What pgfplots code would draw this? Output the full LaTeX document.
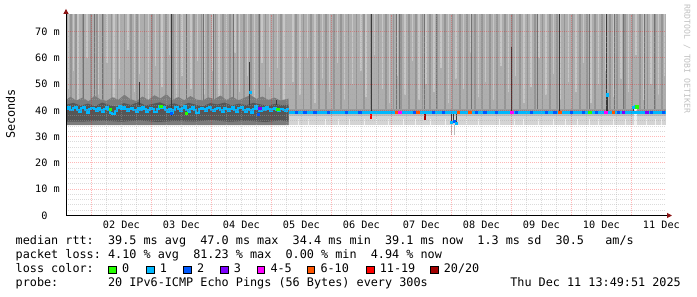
\documentclass[border=0pt]{standalone}
\usepackage{fontspec}
\setmainfont{DejaVu Sans Mono}
\usepackage{pgfplots}
\pgfplotsset{compat=1.18}
\usetikzlibrary{arrows.meta}
\definecolor{smokebase}{HTML}{AEAEAE}
\definecolor{smokelight}{HTML}{C6C6C6}
\definecolor{smokedark}{HTML}{959595}
\definecolor{smokevdark}{HTML}{727272}
\definecolor{spikedark}{HTML}{3A3A3A}
\definecolor{bandone}{HTML}{7C7C7C}
\definecolor{bandtwo}{HTML}{565656}
\definecolor{lowlight}{HTML}{D4D4D4}
\definecolor{lowmid}{HTML}{BDBDBD}
\definecolor{lowwhite}{HTML}{F0F0F0}
\definecolor{upband}{HTML}{9A9A9A}
\definecolor{lossa}{HTML}{26FF00}
\definecolor{lossb}{HTML}{00B8FF}
\definecolor{lossc}{HTML}{0059FF}
\definecolor{lossd}{HTML}{7E00FF}
\definecolor{losse}{HTML}{FF00FF}
\definecolor{lossf}{HTML}{FF5500}
\definecolor{lossg}{HTML}{FF0000}
\definecolor{lossh}{HTML}{A10000}
\definecolor{arrowred}{HTML}{8B1414}
\definecolor{wmark}{HTML}{C0C0C0}
\frenchspacing
\newcommand{\legfont}{\fontsize{11.8}{14}\selectfont}
\newcommand{\tickfont}{\fontsize{10.2}{12}\selectfont}
\begin{document}
\begin{tikzpicture}[x=1pt,y=1pt]
\useasboundingbox (0,0) rectangle (697,297);
\begin{axis}[
  at={(66pt,81.5pt)}, anchor=south west,
  scale only axis, width=600pt, height=200.6pt,
  xmin=1.5764, xmax=11.5764, ymin=0, ymax=76.4,
  axis x line=bottom, axis y line=left,
  axis line style={line width=1pt, black, -{Triangle[length=5pt,width=5pt,color=arrowred,fill=arrowred]}, shorten >=-6pt},
  axis on top,
  unbounded coords=jump,
  xtick={2,3,4,5,6,7,8,9,10,11}, minor x tick num=3,
  xticklabels={02 Dec,03 Dec,04 Dec,05 Dec,06 Dec,07 Dec,08 Dec,09 Dec,10 Dec,11 Dec},
  xticklabel style={font=\tickfont, anchor=center, inner sep=0pt, xshift=30pt, yshift=-9.3pt},
  ytick={0,10,20,30,40,50,60,70}, minor y tick num=4,
  yticklabels={0\phantom{0m},10 m,20 m,30 m,40 m,50 m,60 m,70 m},
  yticklabel style={font=\tickfont, anchor=east, inner sep=0pt, xshift=-6pt},
  major tick length=0pt, minor tick length=0pt,
  tick style={draw=none},
  grid=both,
  major grid style={draw=red, opacity=0.28, dash pattern=on 1pt off 1pt, line width=1pt},
  minor grid style={draw=gray!70, opacity=0.4, dash pattern=on 1pt off 1pt, line width=1pt},
]
% upper smoke base
\addplot[fill=smokebase, draw=none, forget plot] coordinates {(1.5764,34.5) (11.5764,34.5) (11.5764,80) (1.5764,80)} -- cycle;
% light streaks
\addplot[draw=smokelight, line width=1.6pt, mark=none, forget plot] coordinates {
(1.62,48) (1.62,80) (1.62,nan) (1.70,55) (1.70,80) (1.70,nan) (1.78,44) (1.78,80) (1.78,nan)
(1.93,60) (1.93,80) (1.93,nan) (2.05,50) (2.05,80) (2.05,nan) (2.12,46) (2.12,80) (2.12,nan)
(2.26,58) (2.26,80) (2.26,nan) (2.38,45) (2.38,80) (2.38,nan) (2.47,52) (2.47,80) (2.47,nan)
(2.61,63) (2.61,80) (2.61,nan) (2.72,47) (2.72,80) (2.72,nan) (2.80,54) (2.80,80) (2.80,nan)
(2.95,44) (2.95,80) (2.95,nan) (3.07,57) (3.07,80) (3.07,nan) (3.18,49) (3.18,80) (3.18,nan)
(3.30,61) (3.30,80) (3.30,nan) (3.42,45) (3.42,80) (3.42,nan) (3.51,53) (3.51,80) (3.51,nan)
(3.66,48) (3.66,80) (3.66,nan) (3.77,59) (3.77,80) (3.77,nan) (3.88,46) (3.88,80) (3.88,nan)
(4.02,55) (4.02,80) (4.02,nan) (4.13,44) (4.13,80) (4.13,nan) (4.25,50) (4.25,80) (4.25,nan)
(4.39,62) (4.39,80) (4.39,nan) (4.47,47) (4.47,80) (4.47,nan) (4.60,53) (4.60,80) (4.60,nan)
(4.72,45) (4.72,80) (4.72,nan) (4.84,58) (4.84,80) (4.84,nan) (4.97,49) (4.97,80) (4.97,nan)
(5.10,56) (5.10,80) (5.10,nan) (5.21,44) (5.21,80) (5.21,nan) (5.36,51) (5.36,80) (5.36,nan)
(5.48,46) (5.48,80) (5.48,nan) (5.60,60) (5.60,80) (5.60,nan) (5.73,43) (5.73,80) (5.73,nan)
(5.85,52) (5.85,80) (5.85,nan) (5.97,47) (5.97,80) (5.97,nan) (6.10,58) (6.10,80) (6.10,nan)
(6.22,44) (6.22,80) (6.22,nan) (6.35,50) (6.35,80) (6.35,nan) (6.49,55) (6.49,80) (6.49,nan)
(6.58,45) (6.58,80) (6.58,nan) (6.72,61) (6.72,80) (6.72,nan) (6.85,48) (6.85,80) (6.85,nan)
(6.97,43) (6.97,80) (6.97,nan) (7.09,53) (7.09,80) (7.09,nan) (7.23,46) (7.23,80) (7.23,nan)
(7.35,59) (7.35,80) (7.35,nan) (7.46,44) (7.46,80) (7.46,nan) (7.58,50) (7.58,80) (7.58,nan)
(7.71,47) (7.71,80) (7.71,nan) (7.83,56) (7.83,80) (7.83,nan) (7.95,43) (7.95,80) (7.95,nan)
(8.08,52) (8.08,80) (8.08,nan) (8.20,48) (8.20,80) (8.20,nan) (8.33,62) (8.33,80) (8.33,nan)
(8.45,45) (8.45,80) (8.45,nan) (8.57,51) (8.57,80) (8.57,nan) (8.70,44) (8.70,80) (8.70,nan)
(8.83,57) (8.83,80) (8.83,nan) (8.95,47) (8.95,80) (8.95,nan) (9.07,53) (9.07,80) (9.07,nan)
(9.21,43) (9.21,80) (9.21,nan) (9.33,49) (9.33,80) (9.33,nan) (9.46,60) (9.46,80) (9.46,nan)
(9.58,46) (9.58,80) (9.58,nan) (9.70,54) (9.70,80) (9.70,nan) (9.82,44) (9.82,80) (9.82,nan)
(9.95,51) (9.95,80) (9.95,nan) (10.08,47) (10.08,80) (10.08,nan) (10.20,58) (10.20,80) (10.20,nan)
(10.33,43) (10.33,80) (10.33,nan) (10.45,50) (10.45,80) (10.45,nan) (10.58,55) (10.58,80) (10.58,nan)
(10.70,45) (10.70,80) (10.70,nan) (10.83,52) (10.83,80) (10.83,nan) (10.95,47) (10.95,80) (10.95,nan)
(11.08,61) (11.08,80) (11.08,nan) (11.20,44) (11.20,80) (11.20,nan) (11.33,50) (11.33,80) (11.33,nan)
(11.45,46) (11.45,80) (11.45,nan) (11.55,53) (11.55,80)};
% darker streaks
\addplot[draw=smokedark, line width=1.4pt, mark=none, forget plot] coordinates {
(1.66,41) (1.66,80) (1.66,nan) (1.74,40) (1.74,80) (1.74,nan) (1.85,42) (1.85,80) (1.85,nan)
(1.99,40) (1.99,80) (1.99,nan) (2.09,41) (2.09,80) (2.09,nan) (2.19,40) (2.19,80) (2.19,nan)
(2.33,42) (2.33,80) (2.33,nan) (2.43,40) (2.43,80) (2.43,nan) (2.55,41) (2.55,80) (2.55,nan)
(2.66,40) (2.66,80) (2.66,nan) (2.76,43) (2.76,80) (2.76,nan) (2.88,40) (2.88,80) (2.88,nan)
(3.01,41) (3.01,80) (3.01,nan) (3.13,40) (3.13,80) (3.13,nan) (3.24,42) (3.24,80) (3.24,nan)
(3.36,40) (3.36,80) (3.36,nan) (3.47,41) (3.47,80) (3.47,nan) (3.58,40) (3.58,80) (3.58,nan)
(3.71,42) (3.71,80) (3.71,nan) (3.83,40) (3.83,80) (3.83,nan) (3.94,41) (3.94,80) (3.94,nan)
(4.07,40) (4.07,80) (4.07,nan) (4.19,42) (4.19,80) (4.19,nan) (4.31,40) (4.31,80) (4.31,nan)
(4.43,41) (4.43,80) (4.43,nan) (4.54,40) (4.54,80) (4.54,nan) (4.66,42) (4.66,80) (4.66,nan)
(4.78,40) (4.78,80) (4.78,nan) (4.90,41) (4.90,80) (4.90,nan) (5.03,40) (5.03,80) (5.03,nan)
(5.16,41) (5.16,80) (5.16,nan) (5.41,39.4) (5.41,80) (5.41,nan) (5.53,39.4) (5.53,80) (5.53,nan)
(5.66,39.4) (5.66,80) (5.66,nan) (5.79,39.4) (5.79,80) (5.79,nan) (5.91,39.4) (5.91,80) (5.91,nan)
(6.04,39.4) (6.04,80) (6.04,nan) (6.16,39.4) (6.16,80) (6.16,nan) (6.28,39.4) (6.28,80) (6.28,nan)
(6.42,39.4) (6.42,80) (6.42,nan) (6.54,39.4) (6.54,80) (6.54,nan) (6.65,39.4) (6.65,80) (6.65,nan)
(6.78,39.4) (6.78,80) (6.78,nan) (6.91,39.4) (6.91,80) (6.91,nan) (7.03,39.4) (7.03,80) (7.03,nan)
(7.16,39.4) (7.16,80) (7.16,nan) (7.29,39.4) (7.29,80) (7.29,nan) (7.41,39.4) (7.41,80) (7.41,nan)
(7.52,39.4) (7.52,80) (7.52,nan) (7.64,39.4) (7.64,80) (7.64,nan) (7.77,39.4) (7.77,80) (7.77,nan)
(7.89,39.4) (7.89,80) (7.89,nan) (8.02,39.4) (8.02,80) (8.02,nan) (8.14,39.4) (8.14,80) (8.14,nan)
(8.26,39.4) (8.26,80) (8.26,nan) (8.39,39.4) (8.39,80) (8.39,nan) (8.51,39.4) (8.51,80) (8.51,nan)
(8.64,39.4) (8.64,80) (8.64,nan) (8.76,39.4) (8.76,80) (8.76,nan) (8.89,39.4) (8.89,80) (8.89,nan)
(9.01,39.4) (9.01,80) (9.01,nan) (9.14,39.4) (9.14,80) (9.14,nan) (9.27,39.4) (9.27,80) (9.27,nan)
(9.39,39.4) (9.39,80) (9.39,nan) (9.52,39.4) (9.52,80) (9.52,nan) (9.64,39.4) (9.64,80) (9.64,nan)
(9.76,39.4) (9.76,80) (9.76,nan) (9.88,39.4) (9.88,80) (9.88,nan) (10.02,39.4) (10.02,80) (10.02,nan)
(10.14,39.4) (10.14,80) (10.14,nan) (10.26,39.4) (10.26,80) (10.26,nan) (10.39,39.4) (10.39,80) (10.39,nan)
(10.51,39.4) (10.51,80) (10.51,nan) (10.64,39.4) (10.64,80) (10.64,nan) (10.76,39.4) (10.76,80) (10.76,nan)
(10.89,39.4) (10.89,80) (10.89,nan) (11.02,39.4) (11.02,80) (11.02,nan) (11.14,39.4) (11.14,80) (11.14,nan)
(11.27,39.4) (11.27,80) (11.27,nan) (11.39,39.4) (11.39,80) (11.39,nan) (11.51,39.4) (11.51,80)};
% very dark thin lines
\addplot[draw=smokevdark, line width=1pt, mark=none, forget plot] coordinates {
(1.860,42) (1.860,80) (1.860,nan) (2.055,42) (2.055,80) (2.055,nan) (2.193,42) (2.193,80) (2.193,nan)
(3.583,42) (3.583,80) (3.583,nan) (3.860,42) (3.860,80) (3.860,nan) (4.027,42) (4.027,80) (4.027,nan)
(4.360,42) (4.360,80) (4.360,nan) (4.805,42) (4.805,80) (4.805,nan) (7.083,39.4) (7.083,80) (7.083,nan)
(7.138,39.4) (7.138,80) (7.138,nan) (7.555,39.4) (7.555,80) (7.555,nan) (7.750,39.4) (7.750,80) (7.750,nan)
(8.333,39.4) (8.333,80) (8.333,nan) (9.443,39.4) (9.443,80) (9.443,nan) (10.305,39.4) (10.305,80) (10.305,nan)
(10.722,39.4) (10.722,80) (10.722,nan) (10.860,39.4) (10.860,80) (10.860,nan) (11.222,39.4) (11.222,80) (11.222,nan)
(11.388,39.4) (11.388,80)};
% band just above median (second half)
\addplot[fill=upband, draw=none, forget plot] coordinates {(5.285,39.2) (11.5764,39.2) (11.5764,40.4) (5.285,40.4)} -- cycle;
% first half dark band
\addplot[fill=bandone, draw=none, forget plot] coordinates {
(1.5764,34.4) (1.5764,44.0) (1.65,45.2) (1.75,43.8) (1.85,44.9) (1.95,43.5) (2.05,45.6) (2.15,44.2)
(2.25,43.7) (2.35,45.0) (2.45,44.1) (2.55,46.0) (2.65,44.3) (2.75,43.6) (2.85,45.3) (2.95,44.0)
(3.05,45.8) (3.15,44.6) (3.25,46.2) (3.35,44.0) (3.45,45.1) (3.55,43.9) (3.65,45.5) (3.75,44.2)
(3.85,43.8) (3.95,45.0) (4.05,44.3) (4.15,45.7) (4.25,44.0) (4.35,45.2) (4.45,43.9) (4.55,44.8)
(4.65,45.9) (4.75,44.4) (4.85,45.3) (4.95,44.0) (5.05,44.9) (5.15,43.8) (5.285,44.5) (5.285,34.4)} -- cycle;
\addplot[fill=bandtwo, draw=none, forget plot] coordinates {
(1.5764,35.8) (1.5764,42.2) (1.70,42.9) (1.82,41.8) (1.94,42.6) (2.06,41.6) (2.18,43.0) (2.30,42.0)
(2.42,41.5) (2.54,42.8) (2.66,42.1) (2.78,43.2) (2.90,41.9) (3.02,42.5) (3.14,43.1) (3.26,42.0)
(3.38,42.7) (3.50,41.7) (3.62,42.9) (3.74,42.2) (3.86,41.6) (3.98,42.8) (4.10,42.3) (4.22,43.0)
(4.34,41.9) (4.46,42.6) (4.58,42.0) (4.70,42.9) (4.82,42.3) (4.94,41.8) (5.06,42.5) (5.18,42.0)
(5.285,42.2) (5.285,35.8) (5.15,36.2) (4.9,35.6) (4.6,36.1) (4.3,35.7) (4.0,36.3) (3.7,35.8)
(3.4,36.0) (3.1,35.6) (2.8,36.2) (2.5,35.7) (2.2,36.1) (1.9,35.8)} -- cycle;
% second half lower smoke
\addplot[fill=lowlight, draw=none, forget plot] coordinates {(5.285,34.5) (11.5764,34.5) (11.5764,39.2) (5.285,39.2)} -- cycle;
\addplot[fill=lowmid, draw=none, forget plot] coordinates {(5.285,37.9) (11.5764,37.9) (11.5764,39.2) (5.285,39.2)} -- cycle;
\addplot[draw=lowwhite, line width=1.3pt, mark=none, forget plot] coordinates {
(5.45,34.5) (5.45,36.8) (5.45,nan) (5.62,34.5) (5.62,36.8) (5.62,nan) (5.90,34.5) (5.90,36.8) (5.90,nan)
(6.12,34.5) (6.12,36.8) (6.12,nan) (6.30,34.5) (6.30,36.8) (6.30,nan) (6.55,34.5) (6.55,36.8) (6.55,nan)
(6.75,34.5) (6.75,36.8) (6.75,nan) (6.95,34.5) (6.95,36.8) (6.95,nan) (7.20,34.5) (7.20,36.8) (7.20,nan)
(7.40,34.5) (7.40,36.8) (7.40,nan) (7.65,34.5) (7.65,36.8) (7.65,nan) (7.90,34.5) (7.90,36.8) (7.90,nan)
(8.25,34.5) (8.25,36.8) (8.25,nan) (8.45,34.5) (8.45,36.8) (8.45,nan) (8.80,34.5) (8.80,36.8) (8.80,nan)
(9.05,34.5) (9.05,36.8) (9.05,nan) (9.20,34.5) (9.20,36.8) (9.20,nan) (9.45,34.5) (9.45,36.8) (9.45,nan)
(9.70,34.5) (9.70,36.8) (9.70,nan) (9.90,34.5) (9.90,36.8) (9.90,nan) (10.10,34.5) (10.10,36.8) (10.10,nan)
(10.30,34.5) (10.30,36.8) (10.30,nan) (10.45,34.5) (10.45,36.8) (10.45,nan) (10.70,34.5) (10.70,36.8) (10.70,nan)
(10.90,34.5) (10.90,36.8) (10.90,nan) (11.25,34.5) (11.25,36.8) (11.25,nan) (11.40,34.5) (11.40,36.8) (11.40,nan)
(11.50,34.5) (11.50,36.8)};
% light bump area near 11 Dec
\addplot[draw=lowwhite, line width=3pt, mark=none, forget plot] coordinates {(11.06,34.5) (11.06,41.0)};
% light gray below the dip
\addplot[draw=lowmid, line width=1.3pt, mark=none, forget plot] coordinates {(8.005,30.5) (8.005,34.5) (8.005,nan) (8.055,30.5) (8.055,34.5)};
% dark spikes
\addplot[draw=spikedark, line width=1.1pt, mark=none, forget plot] coordinates {
(3.333,38) (3.333,80) (3.333,nan) (6.667,39.4) (6.667,80) (6.667,nan) (9.805,39.4) (9.805,80) (9.805,nan)
(10.583,39.4) (10.583,80) (10.583,nan) (2.805,42) (2.805,51) (2.805,nan) (4.638,42) (4.638,58.5) (4.638,nan)
(5.083,42) (5.083,44) (5.083,nan) (9.000,39.4) (9.000,64) (9.000,nan) (10.600,39.4) (10.600,45.8) (10.600,nan)
(8.000,35.3) (8.000,39.3) (8.000,nan) (8.040,35.3) (8.040,39.3) (8.040,nan) (8.083,35.3) (8.083,39.3) (8.083,nan)
(11.030,39.2) (11.030,41.2)};
% loss below median
\addplot[draw=lossg, line width=1.5pt, mark=none, forget plot] coordinates {(6.660,36.8) (6.660,39.0)};
\addplot[draw=lossh, line width=2pt, mark=none, forget plot] coordinates {(7.555,36.3) (7.555,38.9)};
% median rtt, first half
\addplot[const plot, color=lossb, line width=2pt, mark=none, forget plot] coordinates {
(1.580,40.6) (1.615,41.2) (1.650,40.1) (1.685,40.9) (1.720,41.5) (1.755,40.3) (1.790,39.4) (1.825,40.8)
(1.860,41.3) (1.895,40.2) (1.930,39.1) (1.965,40.5) (2.000,41.0) (2.035,40.4) (2.070,39.8) (2.105,40.9)
(2.140,40.2) (2.175,39.5) (2.210,40.7) (2.245,41.4) (2.280,40.0) (2.315,39.2) (2.350,38.6) (2.385,39.9)
(2.420,40.8) (2.455,41.6) (2.490,40.7) (2.525,41.3) (2.560,40.5) (2.595,39.7) (2.630,40.6) (2.665,41.1)
(2.700,40.3) (2.735,39.6) (2.770,40.8) (2.805,40.1) (2.840,41.5) (2.875,40.6) (2.910,39.3) (2.945,40.2)
(2.980,41.0) (3.015,40.4) (3.050,39.5) (3.085,40.7) (3.120,41.8) (3.155,40.9) (3.190,41.4) (3.225,40.3)
(3.260,39.6) (3.295,40.5) (3.330,39.0) (3.365,40.1) (3.400,41.2) (3.435,40.6) (3.470,39.8) (3.505,40.9)
(3.540,41.6) (3.575,40.2) (3.610,39.4) (3.645,40.7) (3.680,41.3) (3.715,40.0) (3.750,39.2) (3.785,40.4)
(3.820,41.1) (3.855,40.5) (3.890,39.7) (3.925,40.8) (3.960,41.2) (3.995,40.3) (4.030,39.8) (4.065,40.6)
(4.100,41.0) (4.135,40.2) (4.170,39.5) (4.205,40.9) (4.240,40.4) (4.275,39.9) (4.310,40.6) (4.345,41.5)
(4.380,40.1) (4.415,39.4) (4.450,40.8) (4.485,41.3) (4.520,40.2) (4.555,39.6) (4.590,40.7) (4.625,40.3)
(4.660,39.1) (4.695,40.5) (4.730,41.7) (4.765,40.6) (4.800,39.8) (4.835,40.9) (4.870,40.2) (4.905,41.4)
(4.940,40.5) (4.975,39.7) (5.010,40.4) (5.045,41.0) (5.080,40.3) (5.115,39.9) (5.150,40.6) (5.185,40.1)
(5.220,39.8) (5.255,40.4) (5.285,40.4)};
% median rtt, second half
\addplot[color=lossb, line width=2.6pt, mark=none, forget plot] coordinates {(5.285,39.3) (11.5764,39.3)};
% loss colour overlays
\addplot[only marks, mark=square*, mark size=1.1pt, color=lossa, forget plot] coordinates {(2.307,40.5) (3.155,41.5) (3.580,38.9) (5.105,40.5)};
\addplot[only marks, mark=square*, mark size=1.1pt, color=lossc, forget plot] coordinates {(3.333,39.0) (4.777,38.5) (8.040,35.8)};
\addplot[only marks, mark=square*, mark size=1.1pt, color=lossd, forget plot] coordinates {(4.805,41.0)};
\addplot[only marks, mark=square*, mark size=1.1pt, color=lossb, forget plot] coordinates {(4.640,47.0) (10.600,46.0) (8.000,35.5) (8.083,35.3) (11.030,41.3) (11.060,41.4)};
\addplot[only marks, mark=square*, mark size=1.2pt, color=lossc, forget plot] coordinates {
(5.417,39.3) (5.555,39.3) (5.722,39.3) (5.950,39.3) (6.250,39.3)
(6.472,39.3) (7.388,39.3) (7.693,39.3) (7.860,39.3) (8.417,39.3) (8.555,39.3)
(8.750,39.3) (9.083,39.3) (9.333,39.3) (9.583,39.3) (9.722,39.3)
(10.000,39.3) (10.193,39.3) (10.417,39.3) (10.777,39.3) (11.333,39.3)
(11.527,39.3)};
\addplot[only marks, mark=square*, mark size=1.3pt, color=lossf, forget plot] coordinates {
(7.083,39.3) (7.443,39.3) (8.110,39.3) (8.305,39.3) (9.805,39.3) (10.693,39.3)};
\addplot[only marks, mark=square*, mark size=1.3pt, color=losse, forget plot] coordinates {(7.138,39.3) (9.000,39.3) (10.572,39.3)};
\addplot[only marks, mark=square*, mark size=1.3pt, color=lossa, forget plot] coordinates {(10.305,39.3) (11.083,41.4)};
\addplot[only marks, mark=square*, mark size=1.3pt, color=lossd, forget plot] coordinates {(10.860,39.3) (11.250,39.3)};
\end{axis}
% axis title and watermark
\node[rotate=90, font=\legfont, anchor=center] at (10.5,183) {Seconds};
\node[rotate=-90, font=\fontsize{8.2}{10}\selectfont, text=wmark, anchor=center] at (687,238) {RRDTOOL / TOBI OETIKER};
% legend text
\node[font=\legfont, anchor=base west, inner sep=0pt] at (15.5,52.7) {median rtt:~~39.5~ms~avg~~47.0~ms~max~~34.4~ms~min~~39.1~ms~now~~1.3~ms~sd~~30.5~~~am/s};
\node[font=\legfont, anchor=base west, inner sep=0pt] at (15.5,38.5) {packet loss:~4.10~\%~avg~~81.23~\%~max~~0.00~\%~min~~4.94~\%~now};
\node[font=\legfont, anchor=base west, inner sep=0pt] at (15.5,24.3) {loss color:};
\node[font=\legfont, anchor=base west, inner sep=0pt] at (15.5,10.1) {probe:~~~~~~~20~IPv6-ICMP~Echo~Pings~(56~Bytes)~every~300s};
\node[font=\legfont, anchor=base east, inner sep=0pt] at (681,10.1) {Thu~Dec~11~13:49:51~2025};
% loss colour boxes
\foreach \bx/\col/\lab in {108.3/lossa/0, 146/lossb/1, 183.3/lossc/2, 220/lossd/3, 256.7/losse/4-5, 306.7/lossf/6-10, 366/lossg/11-19, 430/lossh/20\slash 20}{
  \draw[fill=\col, draw=black, line width=0.9pt] (\bx+0.45,23.2) rectangle (\bx+8.1,30.8);
  \node[font=\legfont, anchor=base west, inner sep=0pt] at (\bx+13.6,24.3) {\lab};
}
\end{tikzpicture}
\end{document}
